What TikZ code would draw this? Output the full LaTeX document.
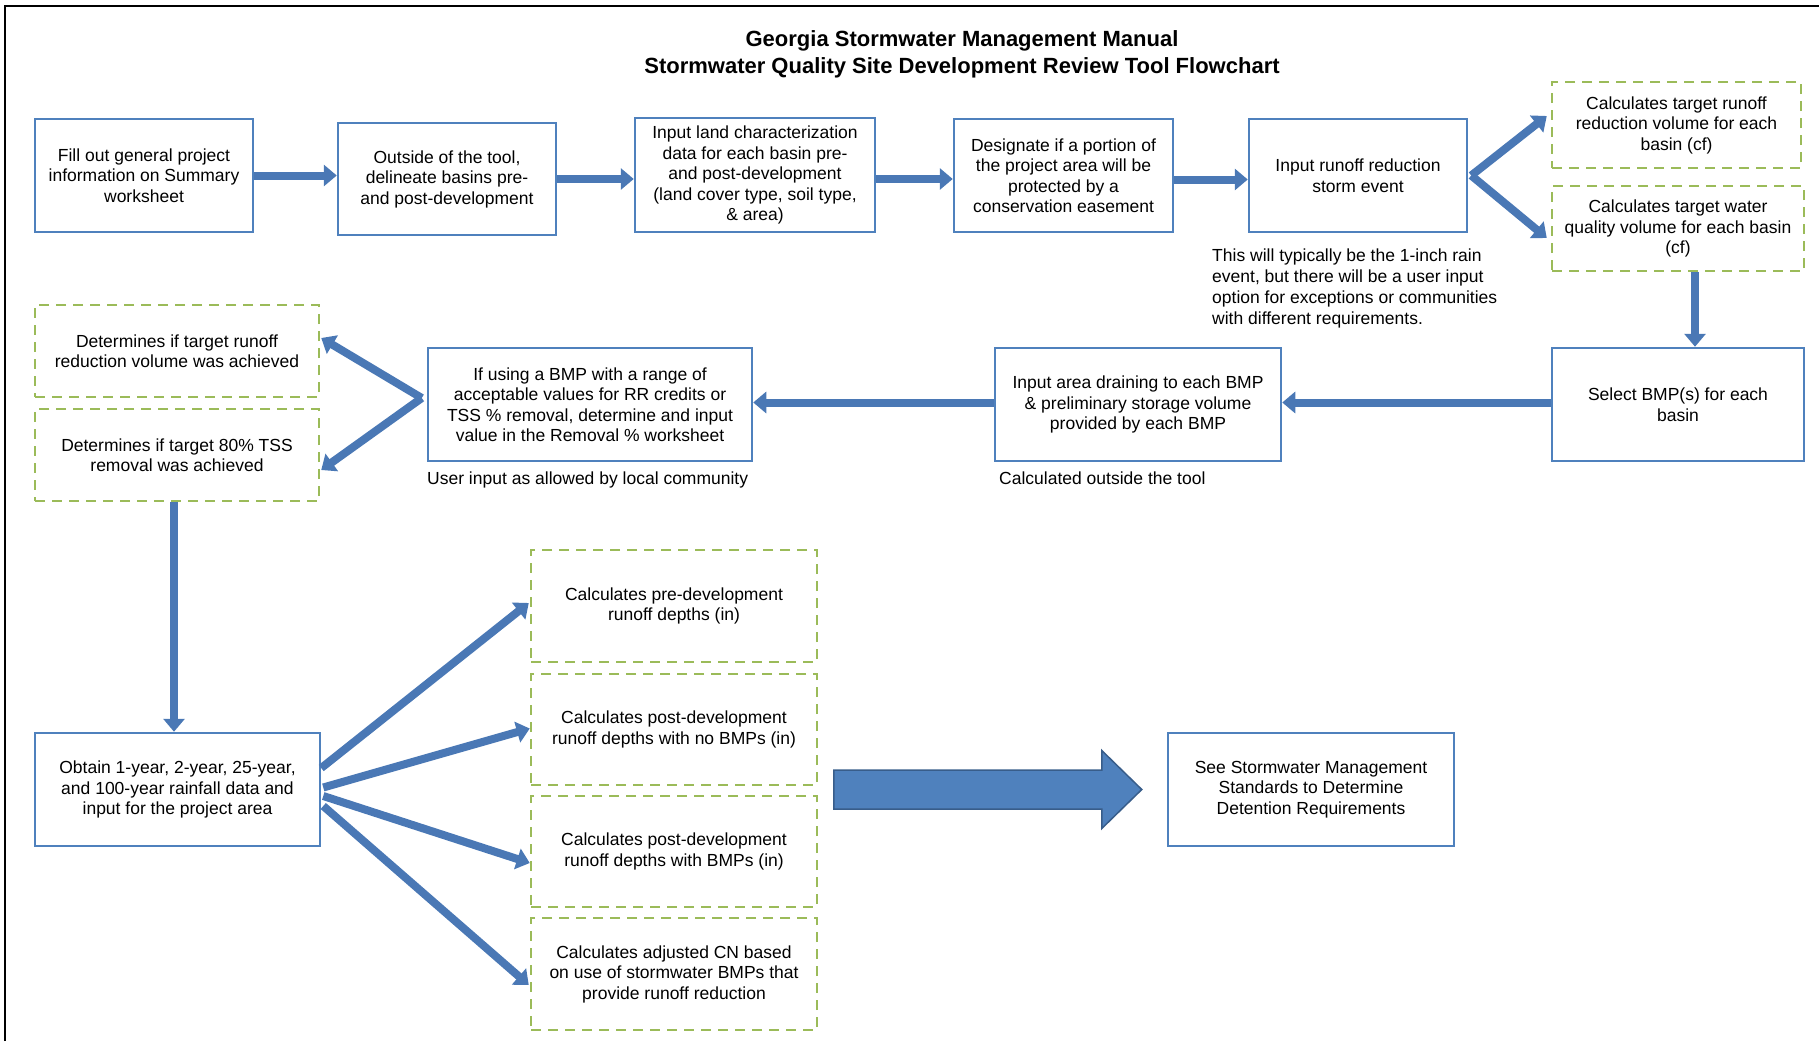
\documentclass[tikz,border=0pt]{standalone}
\usepackage{fontspec}
\setmainfont{Liberation Sans}
\usetikzlibrary{arrows.meta,calc}
\definecolor{boxblue}{HTML}{4F81BD}
\definecolor{boxgreen}{HTML}{9BBB59}
\definecolor{arrowblue}{HTML}{4A78B5}
\definecolor{arrowdark}{HTML}{385D8A}
\begin{document}
\begin{tikzpicture}[x=1pt,y=-1pt,
  txt/.style={font=\fontsize{17.5}{20.5}\selectfont, align=center, inner sep=0},
  bbox/.style={txt, draw=boxblue, line width=2.5, fill=white},
  gbox/.style={txt, draw=boxgreen, line width=2.5, dash pattern=on 10 off 7},
  note/.style={font=\fontsize{17.5}{21}\selectfont, align=left, inner sep=0, anchor=north west},
  conn/.style={draw=arrowblue, line width=8, -{Triangle[width=21,length=13,fill=arrowblue]}},
  bigarrow/.style={fill=boxblue, draw=arrowdark, line width=1.5}
]
\useasboundingbox (0,0) rectangle (1819,1041);
\draw[line width=2] (5,1041) -- (5,6) -- (1819,6);

\node[font=\bfseries\fontsize{22}{27}\selectfont, align=center, inner sep=0] (title) at (962,54.5)
  {Georgia Stormwater Management Manual\\Stormwater Quality Site Development Review Tool Flowchart};

% row 1
\node[bbox, minimum width=218, minimum height=113] (b1) at (144,175.5)
  {Fill out general project\\information on Summary\\worksheet};
\node[bbox, minimum width=218, minimum height=112] (b2) at (447,179)
  {Outside of the tool,\\delineate basins pre-\\and post-development};
\node[bbox, minimum width=240, minimum height=114] (b3) at (755,175)
  {Input land characterization\\data for each basin pre-\\and post-development\\(land cover type, soil type,\\\& area)};
\node[bbox, minimum width=219, minimum height=113] (b4) at (1063.5,175.5)
  {Designate if a portion of\\the project area will be\\protected by a\\conservation easement};
\node[bbox, minimum width=218, minimum height=113] (b5) at (1358,175.5)
  {Input runoff reduction\\storm event};
\node[gbox, minimum width=249, minimum height=86] (g1) at (1676.5,125)
  {Calculates target runoff\\reduction volume for each\\basin (cf)};
\node[gbox, minimum width=252, minimum height=85] (g2) at (1678,228.5)
  {Calculates target water\\quality volume for each basin\\(cf)};
\node[note] (n1) at (1212,249)
  {This will typically be the 1-inch rain\\event, but there will be a user input\\option for exceptions or communities\\with different requirements.};

% row 2
\node[gbox, minimum width=284, minimum height=92] (g3) at (177,351)
  {Determines if target runoff\\reduction volume was achieved};
\node[gbox, minimum width=284, minimum height=92] (g4) at (177,455)
  {Determines if target 80\% TSS\\removal was achieved};
\node[bbox, minimum width=324, minimum height=113] (b6) at (590,404.5)
  {If using a BMP with a range of\\acceptable values for RR credits or\\TSS \% removal, determine and input\\value in the Removal \% worksheet};
\node[note] (n2) at (427,472) {User input as allowed by local community};
\node[bbox, minimum width=286, minimum height=113] (b7) at (1138,404.5)
  {Input area draining to each BMP\\\& preliminary storage volume\\provided by each BMP};
\node[note] (n3) at (999,472) {Calculated outside the tool};
\node[bbox, minimum width=252, minimum height=113] (b8) at (1678,404.5)
  {Select BMP(s) for each\\basin};

% row 3
\node[bbox, minimum width=285, minimum height=113] (b9) at (177.5,789.5)
  {Obtain 1-year, 2-year, 25-year,\\and 100-year rainfall data and\\input for the project area};
\node[gbox, minimum width=286, minimum height=112] (g5) at (674,606)
  {Calculates pre-development\\runoff depths (in)};
\node[gbox, minimum width=286, minimum height=111] (g6) at (674,729.5)
  {Calculates post-development\\runoff depths with no BMPs (in)};
\node[gbox, minimum width=286, minimum height=111] (g7) at (674,851.5)
  {Calculates post-development\\runoff depths with BMPs (in)};
\node[gbox, minimum width=286, minimum height=112] (g8) at (674,974)
  {Calculates adjusted CN based\\on use of stormwater BMPs that\\provide runoff reduction};
\node[bbox, minimum width=286, minimum height=113] (b10) at (1311,789.5)
  {See Stormwater Management\\Standards to Determine\\Detention Requirements};

% connectors row 1
\draw[conn] (b1.east) -- (b1.east -| b2.west);
\draw[conn] (b2.east) -- (b2.east -| b3.west);
\draw[conn] ([yshift=-4]b3.east) -- ([yshift=-4]b3.east -| b4.west);
\draw[conn] ([yshift=-4]b4.east) -- ([yshift=-4]b4.east -| b5.west);
\draw[conn] ($(b5.east)+(3,0)$) -- ($(g1.west)+(-4,-9)$);
\draw[conn] ($(b5.east)+(3,0)$) -- ($(g2.west)+(-4,9.5)$);
\draw[conn] ($(g2.south)+(17,0)$) -- ($(b8.north)+(17,0)$);

% row 2
\draw[conn] ([yshift=2]b8.west) -- ([yshift=2]b8.west -| b7.east);
\draw[conn] ([yshift=2]b7.west) -- ([yshift=2]b7.west -| b6.east);
\draw[conn] ($(b6.west)+(-5,-6.5)$) -- ($(g3.east)+(1,-13)$);
\draw[conn] ($(b6.west)+(-5,-6.5)$) -- ($(g4.east)+(1,15)$);
\draw[conn] ($(g4.south)+(-3,0)$) -- ($(b9.north)+(-3.5,0)$);

% row 3
\draw[conn] ($(b9.east)+(0,-21.5)$) -- ($(g5.west)+(-1,-3)$);
\draw[conn] ($(b9.east)+(2,-2)$) -- ($(g6.west)+(0,-1)$);
\draw[conn] ($(b9.east)+(2,6.5)$) -- ($(g7.west)+(0,11.5)$);
\draw[conn] ($(b9.east)+(2,16.5)$) -- ($(g8.west)+(-1,11)$);

\begin{scope}[shift={(b10.west)}]
  \coordinate (tip) at (-25,0);
  \draw[bigarrow] (-333,-19.5) -- (-65,-19.5) -- (-65,-39) -- (tip) -- (-65,39) -- (-65,19.5) -- (-333,19.5) -- cycle;
\end{scope}
\end{tikzpicture}
\end{document}
